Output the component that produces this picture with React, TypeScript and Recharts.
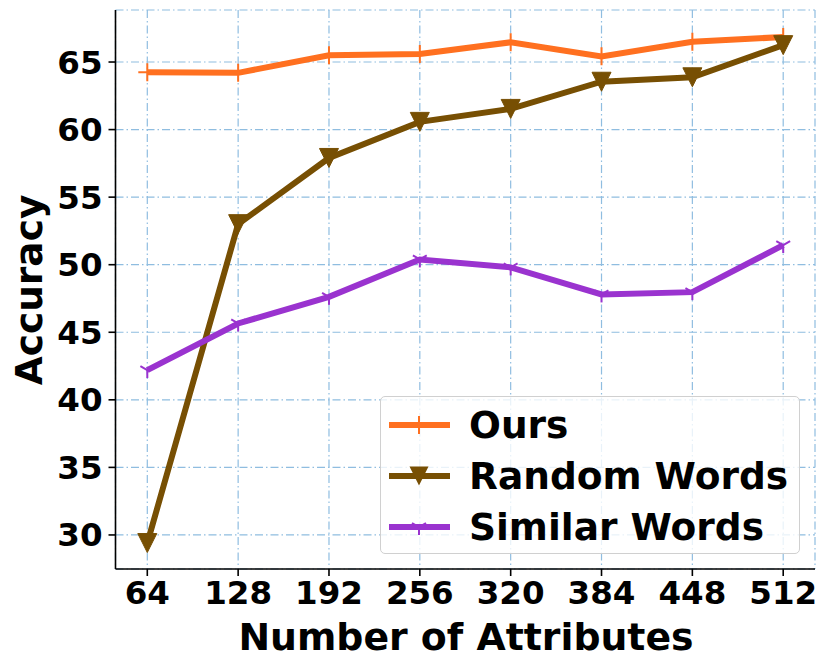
import React from 'react';
import { LineChart, Line, XAxis, YAxis, CartesianGrid, Label } from 'recharts';

const attributes = [64, 128, 192, 256, 320, 384, 448, 512];
const ours = [64.25, 64.2, 65.5, 65.6, 66.46, 65.42, 66.5, 66.85];
const randomWords = [29.4, 53.0, 57.9, 60.57, 61.53, 63.54, 63.87, 66.25];
const similarWords = [42.2, 45.65, 47.62, 50.39, 49.8, 47.8, 47.97, 51.45];
const yTicks = [30, 35, 40, 45, 50, 55, 60, 65];
const seriesNames = ['Ours', 'Random Words', 'Similar Words'];

const COLORS = { ours: '#FF7020', random: '#774F03', similar: '#9A33CF' };
const FONT = 'DejaVu Sans';

const data = attributes.map((x, i) => ({ x, ours: ours[i], random: randomWords[i], similar: similarWords[i] }));

const PlusDot = (color: string) => (p: any) => {
  const { cx, cy, index } = p;
  if (cx == null || cy == null) return <g key={`p${index}`} />;
  return (
    <g key={`p${index}`}>
      <line x1={cx} y1={cy - 9} x2={cx} y2={cy + 9} stroke={color} strokeWidth={2} />
      <line x1={cx - 9} y1={cy} x2={cx + 9} y2={cy} stroke={color} strokeWidth={2} />
    </g>
  );
};

const TriDownDot = (color: string) => (p: any) => {
  const { cx, cy, index } = p;
  if (cx == null || cy == null) return <g key={`t${index}`} />;
  const r = 8;
  return (
    <g key={`t${index}`}>
      <line x1={cx} y1={cy} x2={cx} y2={cy + r} stroke={color} strokeWidth={2} />
      <line x1={cx} y1={cy} x2={cx - r * 0.866} y2={cy - r * 0.5} stroke={color} strokeWidth={2} />
      <line x1={cx} y1={cy} x2={cx + r * 0.866} y2={cy - r * 0.5} stroke={color} strokeWidth={2} />
    </g>
  );
};

const TriangleDot = (color: string) => (p: any) => {
  const { cx, cy, index } = p;
  if (cx == null || cy == null) return <g key={`v${index}`} />;
  return (
    <polygon
      key={`v${index}`}
      points={`${cx},${cy + 9.5} ${cx - 9.5},${cy - 9.5} ${cx + 9.5},${cy - 9.5}`}
      fill={color}
      stroke={color}
      strokeWidth={1}
    />
  );
};

const LegendBox = () => {
  const colors = [COLORS.ours, COLORS.random, COLORS.similar];
  return (
    <div
      style={{
        position: 'absolute',
        left: 380,
        top: 396,
        width: 420,
        height: 158,
        border: '1.5px solid #d0d0d0',
        borderRadius: 5,
        background: 'rgba(255,255,255,0.8)',
        boxSizing: 'border-box',
      }}
    >
      <svg width={417} height={155} style={{ display: 'block' }}>
        {seriesNames.map((name, i) => {
          const cy = 28 + i * 51;
          const cx = 38;
          const c = colors[i];
          return (
            <g key={name}>
              <line x1={8} y1={cy} x2={69} y2={cy} stroke={c} strokeWidth={6} />
              {i === 0 && <line x1={cx} y1={cy - 9} x2={cx} y2={cy + 9} stroke={c} strokeWidth={2} />}
              {i === 1 && (
                <polygon points={`${cx},${cy + 9.5} ${cx - 9.5},${cy - 9.5} ${cx + 9.5},${cy - 9.5}`} fill={c} />
              )}
              {i === 2 && (
                <g>
                  <line x1={cx} y1={cy} x2={cx} y2={cy + 8} stroke={c} strokeWidth={2} />
                  <line x1={cx} y1={cy} x2={cx - 7} y2={cy - 4} stroke={c} strokeWidth={2} />
                  <line x1={cx} y1={cy} x2={cx + 7} y2={cy - 4} stroke={c} strokeWidth={2} />
                </g>
              )}
              <text x={88} y={cy + 13} fontFamily={FONT} fontWeight="bold" fontSize={37.5} fill="#000">
                {name}
              </text>
            </g>
          );
        })}
      </svg>
    </div>
  );
};

const tickStyle = { fill: '#000', fontFamily: FONT, fontWeight: 'bold', fontSize: 32.5 } as any;

export default function App() {
  return (
    <div style={{ position: 'absolute', left: 0, top: 0, width: 831, height: 670 }}>
      <LineChart width={831} height={670} data={data} margin={{ top: 10, right: 16, left: 0, bottom: 0 }}>
        <CartesianGrid stroke="#8fbde0" strokeWidth={1.2} strokeDasharray="8 3 1.5 3" />
        <XAxis
          type="number"
          dataKey="x"
          domain={[41.6, 534.4]}
          ticks={attributes}
          allowDataOverflow
          height={101}
          tickSize={7}
          tickMargin={5}
          tick={tickStyle}
          axisLine={{ stroke: '#000', strokeWidth: 1.6 }}
          tickLine={{ stroke: '#000', strokeWidth: 1.6 }}
        >
          <Label
            content={() => (
              <text x={466} y={650} textAnchor="middle" fontFamily={FONT} fontWeight="bold" fontSize={37.8} fill="#000">
                Number of Attributes
              </text>
            )}
          />
        </XAxis>
        <YAxis
          type="number"
          domain={[27.48, 68.85]}
          ticks={yTicks}
          allowDataOverflow
          width={115.5}
          tickSize={7}
          tickMargin={6}
          tick={tickStyle}
          axisLine={{ stroke: '#000', strokeWidth: 1.6 }}
          tickLine={{ stroke: '#000', strokeWidth: 1.6 }}
        >
          <Label
            content={() => (
              <text
                transform="translate(42,290) rotate(-90)"
                textAnchor="middle"
                fontFamily={FONT}
                fontWeight="bold"
                fontSize={37.5}
                fill="#000"
              >
                Accuracy
              </text>
            )}
          />
        </YAxis>
        <Line
          type="linear"
          dataKey="ours"
          name="Ours"
          stroke={COLORS.ours}
          strokeWidth={6}
          dot={PlusDot(COLORS.ours)}
          activeDot={false}
          isAnimationActive={false}
        />
        <Line
          type="linear"
          dataKey="random"
          name="Random Words"
          stroke={COLORS.random}
          strokeWidth={6}
          dot={TriangleDot(COLORS.random)}
          activeDot={false}
          isAnimationActive={false}
        />
        <Line
          type="linear"
          dataKey="similar"
          name="Similar Words"
          stroke={COLORS.similar}
          strokeWidth={6}
          dot={TriDownDot(COLORS.similar)}
          activeDot={false}
          isAnimationActive={false}
        />
      </LineChart>
      <LegendBox />
    </div>
  );
}
